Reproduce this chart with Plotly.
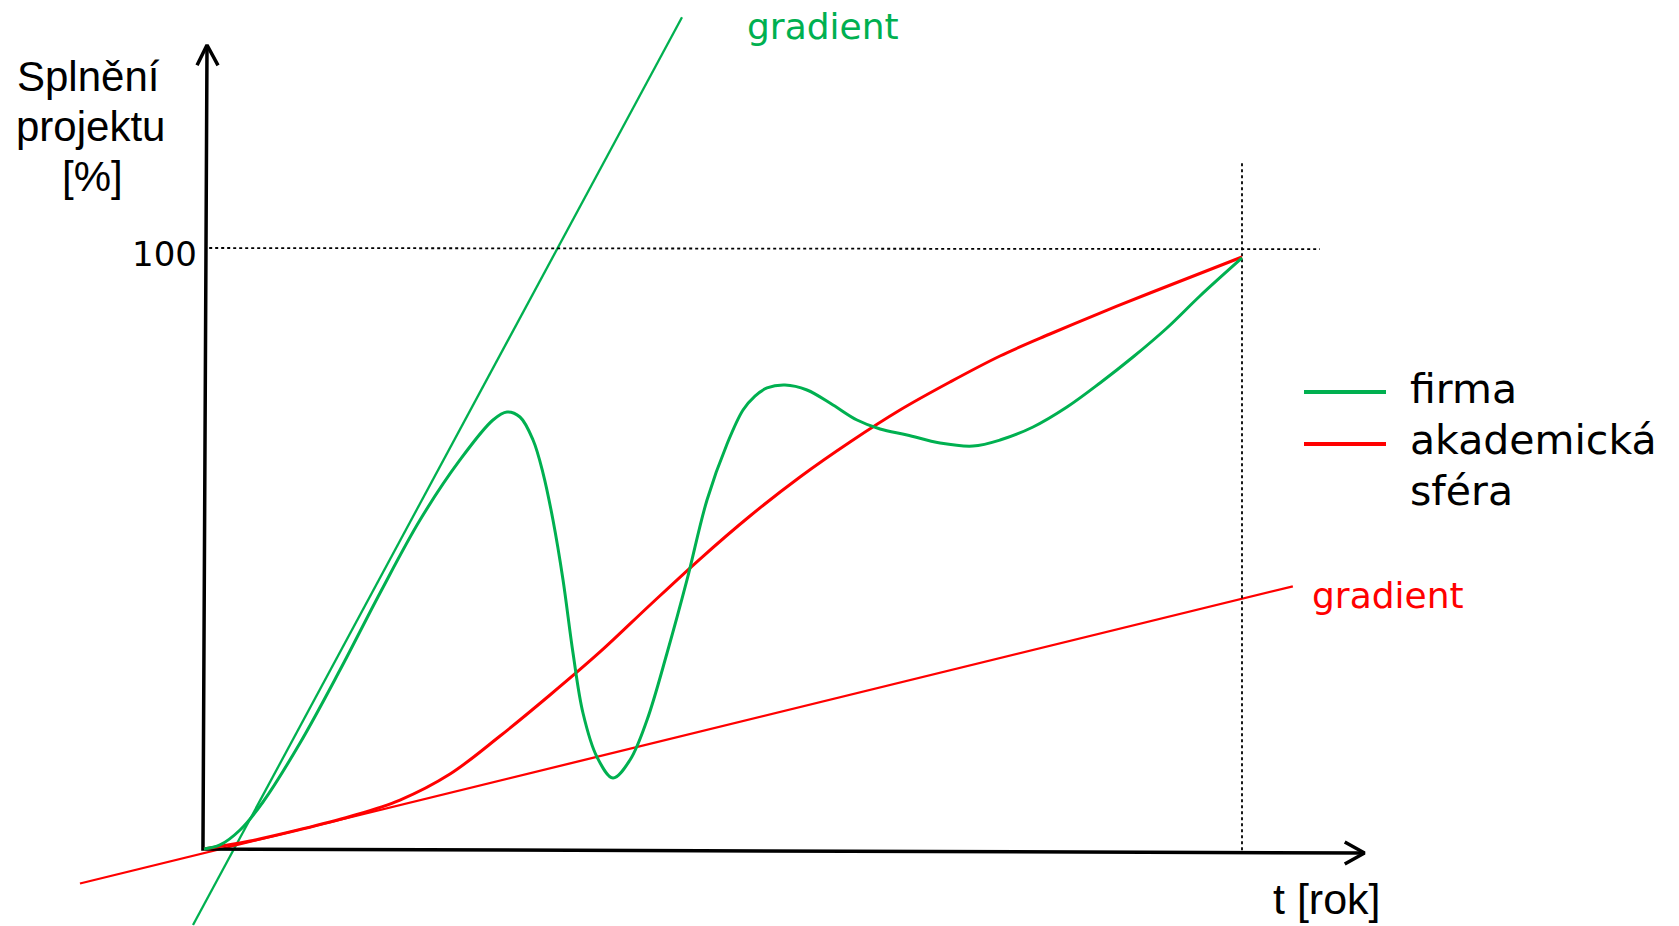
import plotly.graph_objects as go

# ---------------- data (t in years, completion in %) ----------------
firma_t = [0.0, 0.154, 0.347, 0.568, 0.925, 1.310, 1.696, 2.081, 2.466, 2.784, 2.919,
           3.044, 3.170, 3.266, 3.362, 3.459, 3.555, 3.651, 3.786, 3.940, 4.104, 4.268,
           4.461, 4.653, 4.846, 5.039, 5.193, 5.308, 5.424, 5.597, 5.809, 6.060, 6.291, 6.513,
           6.773, 7.091, 7.408, 7.669, 7.987, 8.314, 8.632, 8.950, 9.277, 9.595, 10.0]
firma_pct = [0.0, 0.67, 3.16, 7.82, 17.64, 29.78, 42.60, 54.74, 64.73, 71.38, 72.71,
             71.88, 68.05, 62.56, 54.74, 44.76, 32.61, 22.63, 15.31, 11.81, 14.81, 21.46,
             32.61, 44.76, 58.07, 67.39, 73.04, 75.37, 76.71, 77.20, 76.37, 73.88, 71.38, 69.88,
             68.89, 67.55, 67.05, 68.05, 70.22, 73.54, 77.54, 81.86, 86.69, 92.01, 98.34]

akad_t = [0.0, 0.443, 0.925, 1.407, 1.888, 2.370, 2.852, 3.333, 3.815, 4.297, 4.778,
          5.260, 5.742, 6.224, 6.705, 7.187, 7.669, 8.150, 8.632, 9.114, 10.0]
akad_pct = [0.0, 1.33, 3.24, 5.41, 8.15, 12.48, 18.80, 25.62, 32.78, 40.60, 48.25,
            55.41, 61.90, 67.72, 73.04, 77.70, 82.03, 85.69, 89.18, 92.51, 98.50]

grad_firma_t = [-0.106, 4.605]
grad_firma_pct = [-12.65, 138.4]
grad_akad_t = [-1.195, 10.49]
grad_akad_pct = [-5.74, 43.71]

target_pct = 100
end_t = 10

series_names = ["firma", "akademická", "sféra"]
label_y = ["Splnění", "projektu", "[%]"]
label_x = "t [rok]"
grad_label = "gradient"

GREEN = "#00B050"
RED = "#FF0000"

W, H = 1679, 926
# pixel mapping used only for layout placement (range setup)
X0_PX, PX_PER_T = 204.0, 103.8
Y0_PX, PX_PER_PCT = 849.0, 6.01

x_range = [-X0_PX / PX_PER_T, (W - X0_PX) / PX_PER_T]
y_range = [(Y0_PX - H) / PX_PER_PCT, Y0_PX / PX_PER_PCT]


def px(xp):
    return xp / W


def py(yp):
    return 1 - yp / H


fig = go.Figure()

# gradient lines
fig.add_trace(go.Scatter(x=grad_firma_t, y=grad_firma_pct, mode="lines",
                         line=dict(color=GREEN, width=2.3), showlegend=False, hoverinfo="skip"))
fig.add_trace(go.Scatter(x=grad_akad_t, y=grad_akad_pct, mode="lines",
                         line=dict(color=RED, width=2.3), showlegend=False, hoverinfo="skip"))

# reference dotted lines
fig.add_trace(go.Scatter(x=[0.05, 10.75], y=[target_pct, 99.8], mode="lines",
                         line=dict(color="black", width=1.8, dash="dot"), showlegend=False, hoverinfo="skip"))
fig.add_trace(go.Scatter(x=[end_t, end_t], y=[114.1, -0.5], mode="lines",
                         line=dict(color="black", width=1.8, dash="dot"), showlegend=False, hoverinfo="skip"))

# axes with open arrowheads
fig.add_trace(go.Scatter(x=[0.029, -0.01, 11.18], y=[133.78, 0, -0.67], mode="lines",
                         line=dict(color="black", width=3.5), showlegend=False, hoverinfo="skip"))
fig.add_trace(go.Scatter(x=[-0.067, 0.029, 0.135], y=[130.4, 133.78, 130.4], mode="lines",
                         line=dict(color="black", width=3.5), showlegend=False, hoverinfo="skip"))
fig.add_trace(go.Scatter(x=[10.99, 11.18, 10.99], y=[1.16, -0.67, -2.50], mode="lines",
                         line=dict(color="black", width=3.5), showlegend=False, hoverinfo="skip"))

# main curves
fig.add_trace(go.Scatter(x=akad_t, y=akad_pct, mode="lines", name="akademická sféra",
                         line=dict(color=RED, width=3, shape="spline", smoothing=1.0),
                         showlegend=False))
fig.add_trace(go.Scatter(x=firma_t, y=firma_pct, mode="lines", name="firma",
                         line=dict(color=GREEN, width=3, shape="spline", smoothing=1.0),
                         showlegend=False))

ann = []
AR = "Liberation Sans, Arial, sans-serif"
VE = "DejaVu Sans, Verdana, sans-serif"


def add_text(text, x, y, size, color="black", family=AR, xanchor="center"):
    ann.append(dict(text=text, x=px(x), y=py(y), xref="paper", yref="paper",
                    xanchor=xanchor, yanchor="middle", showarrow=False,
                    font=dict(family=family, size=size, color=color)))


add_text(label_y[0], 88, 76, 42)
add_text(label_y[1], 90, 126, 42)
add_text(label_y[2], 92, 176, 42)
add_text(str(target_pct), 164, 254, 34, family=VE)
add_text(label_x, 1327, 899, 43)
add_text(grad_label, 823, 26, 36, color=GREEN, family=VE)
add_text(grad_label, 1388, 595, 36, color=RED, family=VE)
add_text(series_names[0], 1408, 389, 41, family=VE, xanchor="left")
add_text(series_names[1], 1408, 440, 41, family=VE, xanchor="left")
add_text(series_names[2], 1408, 491, 41, family=VE, xanchor="left")

shapes = [
    dict(type="line", xref="paper", yref="paper", x0=px(1304), x1=px(1386), y0=py(392), y1=py(392),
         line=dict(color=GREEN, width=4)),
    dict(type="line", xref="paper", yref="paper", x0=px(1304), x1=px(1386), y0=py(444), y1=py(444),
         line=dict(color=RED, width=4)),
]

fig.update_layout(
    width=W, height=H, autosize=False,
    margin=dict(l=0, r=0, t=0, b=0, pad=0),
    paper_bgcolor="white", plot_bgcolor="white",
    xaxis=dict(range=x_range, visible=False, fixedrange=True),
    yaxis=dict(range=y_range, visible=False, fixedrange=True),
    annotations=ann, shapes=shapes, showlegend=False,
)

fig.write_html("out.html", config=dict(displayModeBar=False),
               post_script="document.body.style.margin='0';document.body.style.overflow='hidden';")
